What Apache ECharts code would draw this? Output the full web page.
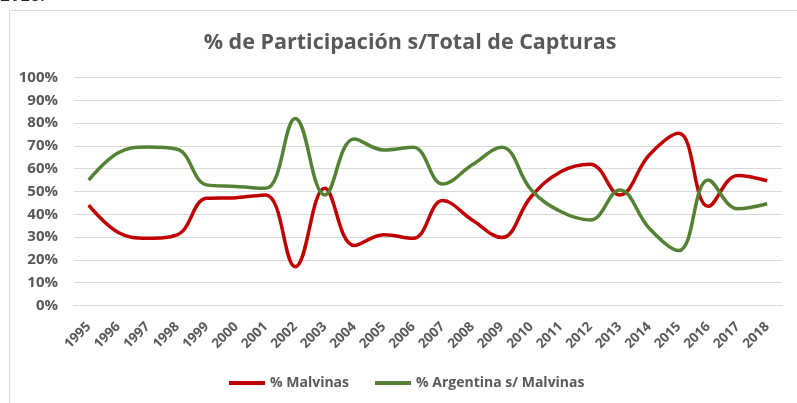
<!DOCTYPE html>
<html>
<head>
<meta charset="utf-8">
<script src="https://cdn.jsdelivr.net/npm/echarts@6/dist/echarts.min.js"></script>
<style>
  html, body { margin: 0; padding: 0; background: #fff; }
  #chart { width: 797px; height: 403px; }
</style>
</head>
<body>
<div id="chart"></div>
<script>
// años
var years = ['1995', '1996', '1997', '1998', '1999', '2000', '2001', '2002', '2003', '2004', '2005', '2006',
  '2007', '2008', '2009', '2010', '2011', '2012', '2013', '2014', '2015', '2016', '2017', '2018']
// % Malvinas
var malvinas = [44, 32, 29.5, 31, 47, 47.3, 48.5, 17, 51.4, 26.3, 31, 29.5,
  46, 37.5, 29.8, 47.8, 58.7, 62, 48.5, 66, 75.5, 43.5, 57, 54.7]
// % Argentina s/ Malvinas
var argentina = [55, 67, 69.5, 68.5, 52.9, 52.2, 51.4, 82, 48.5, 73, 68.2, 69.4,
  53.3, 61.7, 69.4, 50.7, 41.2, 37.5, 50.7, 33.9, 24.1, 55, 42.4, 44.6]

var font = '"Open Sans", sans-serif'
var grey = '#595959'

var chart = echarts.init(document.getElementById('chart'))
chart.setOption({
  animation: false,
  backgroundColor: '#fff',
  title: {
    text: '% de Participación s/Total de Capturas',
    left: 405,
    textAlign: 'center',
    top: 27,
    textStyle: { fontFamily: font, fontSize: 21.5, fontWeight: 'bold', color: grey }
  },
  graphic: [
    {
      type: 'rect',
      shape: { x: 9.5, y: 10.5, width: 820, height: 420 },
      style: { fill: 'none', stroke: '#d9d9d9', lineWidth: 1 },
      silent: true
    },
    {
      type: 'text',
      left: 0,
      top: -13,
      style: { text: '2018.', font: '18px "Liberation Sans", sans-serif', fill: '#222' }
    }
  ],
  legend: {
    left: 224,
    top: 371,
    icon: 'rect',
    itemWidth: 36,
    itemHeight: 4,
    itemGap: 26,
    textStyle: { fontFamily: font, fontSize: 14, fontWeight: 'bold', color: grey },
    data: ['% Malvinas', '% Argentina s/ Malvinas']
  },
  grid: {
    left: 74,
    right: 15,
    top: 77.5,
    bottom: 97.5
  },
  xAxis: {
    type: 'category',
    data: years,
    boundaryGap: true,
    axisLine: { lineStyle: { color: '#d9d9d9' } },
    axisTick: { show: false },
    axisLabel: {
      rotate: 45,
      interval: 0,
      margin: 19,
      fontFamily: font,
      fontSize: 13.5,
      fontWeight: 'bold',
      color: grey
    }
  },
  yAxis: {
    type: 'value',
    min: 0,
    max: 100,
    interval: 10,
    axisLine: { show: false },
    axisTick: { show: false },
    splitLine: { lineStyle: { color: '#d9d9d9', width: 1 } },
    axisLabel: {
      formatter: '{value}%',
      margin: 16,
      fontFamily: font,
      fontSize: 15,
      fontWeight: 'bold',
      color: grey
    }
  },
  series: [
    {
      name: '% Malvinas',
      type: 'line',
      data: malvinas,
      smooth: 0.4,
      showSymbol: false,
      color: '#c00000',
      lineStyle: { color: '#c00000', width: 3.5 }
    },
    {
      name: '% Argentina s/ Malvinas',
      type: 'line',
      data: argentina,
      smooth: 0.4,
      showSymbol: false,
      color: '#548235',
      lineStyle: { color: '#548235', width: 3.5 }
    }
  ]
})
</script>
</body>
</html>
